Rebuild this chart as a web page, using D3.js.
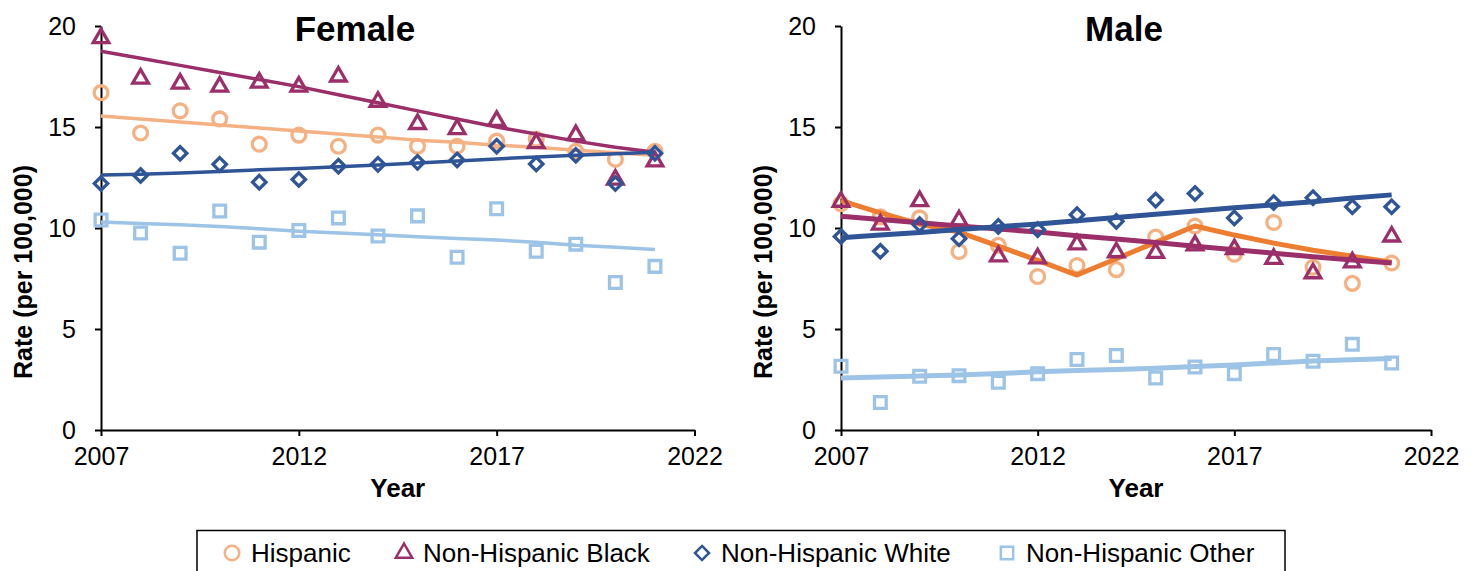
<!DOCTYPE html>
<html>
<head>
<meta charset="utf-8">
<script src="https://cdn.jsdelivr.net/npm/d3@7"></script>
<style>
  body { margin: 0; background: #fff; }
  svg text { font-family: "Liberation Sans", Arial, sans-serif; fill: #000; }
</style>
</head>
<body>
<div id="chart"></div>
<script>
// data
var years = [2007, 2008, 2009, 2010, 2011, 2012, 2013, 2014, 2015, 2016, 2017, 2018, 2019, 2020, 2021];
var yTicks = [0, 5, 10, 15, 20];
var xTicks = [2007, 2012, 2017, 2022];
var groups = ["Hispanic", "Non-Hispanic Black", "Non-Hispanic White", "Non-Hispanic Other"];

// female observed rates
var femHisp  = [16.7, 14.7, 15.8, 15.4, 14.15, 14.6, 14.05, 14.6, 14.05, 14.05, 14.3, 14.4, 13.8, 13.4, 13.8];
var femBlack = [19.4, 17.4, 17.15, 17.0, 17.2, 17.0, 17.5, 16.25, 15.15, 14.9, 15.3, 14.2, 14.6, 12.4, 13.3];
var femWhite = [12.2, 12.6, 13.7, 13.15, 12.27, 12.4, 13.06, 13.15, 13.25, 13.37, 14.05, 13.17, 13.6, 12.2, 13.7];
var femOther = [10.4, 9.75, 8.75, 10.84, 9.3, 9.88, 10.5, 9.6, 10.6, 8.55, 10.95, 8.85, 9.2, 7.3, 8.1];
// female fitted trends
var femHispFit  = [15.55, 15.4, 15.25, 15.1, 14.95, 14.8, 14.65, 14.5, 14.35, 14.25, 14.1, 14.0, 13.85, 13.72, 13.6];
var femBlackFit = [18.75, 18.4, 18.05, 17.7, 17.35, 17.0, 16.6, 16.2, 15.8, 15.4, 15.0, 14.65, 14.3, 14.0, 13.75];
var femWhiteFit = [12.62, 12.66, 12.72, 12.8, 12.88, 12.95, 13.03, 13.12, 13.22, 13.32, 13.42, 13.52, 13.6, 13.68, 13.75];
var femOtherFit = [10.3, 10.22, 10.16, 10.08, 9.96, 9.84, 9.75, 9.66, 9.57, 9.48, 9.4, 9.3, 9.15, 9.05, 8.93];

// male observed rates
var maleHisp  = [11.2, 10.55, 10.5, 8.84, 9.14, 7.6, 8.14, 7.94, 9.55, 10.1, 8.7, 10.27, 8.06, 7.26, 8.27];
var maleBlack = [11.3, 10.17, 11.33, 10.38, 8.6, 8.5, 9.19, 8.8, 8.77, 9.14, 8.95, 8.47, 7.76, 8.3, 9.58];
var maleWhite = [9.58, 8.85, 10.17, 9.47, 10.08, 9.92, 10.66, 10.33, 11.38, 11.71, 10.5, 11.26, 11.5, 11.05, 11.05];
var maleOther = [3.16, 1.36, 2.66, 2.69, 2.36, 2.79, 3.49, 3.69, 2.57, 3.12, 2.79, 3.74, 3.4, 4.24, 3.32];
// male fitted trends
var maleHispFit  = [11.35, 10.75, 10.2, 9.8, 9.1, 8.4, 7.67, 8.48, 9.29, 10.1, 9.65, 9.25, 8.9, 8.6, 8.3];
var maleBlackFit = [10.58, 10.42, 10.26, 10.1, 9.95, 9.8, 9.62, 9.45, 9.28, 9.1, 8.92, 8.75, 8.58, 8.42, 8.27];
var maleWhiteFit = [9.52, 9.65, 9.78, 9.92, 10.06, 10.2, 10.36, 10.52, 10.68, 10.84, 11.0, 11.15, 11.3, 11.48, 11.64];
var maleOtherFit = [2.57, 2.62, 2.67, 2.72, 2.8, 2.88, 2.95, 3.0, 3.06, 3.14, 3.22, 3.32, 3.42, 3.48, 3.54];

var colors = ["#F4B183", "#9B2F6A", "#2F5597", "#9DC3E6"];
var maleHispLine = "#ED7D31";
var symbols = [d3.symbolCircle, d3.symbolTriangle2, d3.symbolDiamond2, d3.symbolSquare2];
var symSizes = [150, 175, 115, 175];

var svgWidth = 1479;
var svgHeight = 571;

var svg = d3.select("#chart")
  .append("svg")
  .attr("width", svgWidth)
  .attr("height", svgHeight);

var yScale = d3.scaleLinear().domain([0, 20]).range([430, 26]);

function drawPanel(opts) {
  var xScale = d3.scaleLinear().domain([2007, 2022]).range([opts.left, opts.right]);
  var g = svg.append("g");

  // axes
  var xAxis = g.append("g")
    .attr("transform", "translate(0,430)")
    .call(d3.axisBottom(xScale).tickValues(xTicks).tickFormat(d3.format("d"))
      .tickSize(6).tickSizeOuter(0).tickPadding(11));
  var yAxis = g.append("g")
    .attr("transform", `translate(${opts.left},0)`)
    .call(d3.axisLeft(yScale).tickValues(yTicks).tickSize(6).tickSizeOuter(0).tickPadding(19));
  g.selectAll(".domain, .tick line").attr("stroke", "#000").attr("stroke-width", 2);
  g.selectAll(".tick text").attr("font-size", "25px");

  // labels
  g.append("text")
    .attr("x", (opts.left + opts.right) / 2)
    .attr("y", 497)
    .attr("text-anchor", "middle")
    .attr("font-size", "26px")
    .attr("font-weight", "bold")
    .text("Year");
  g.append("text")
    .attr("transform", `translate(${opts.labelX},272) rotate(-90)`)
    .attr("text-anchor", "middle")
    .attr("font-size", "25px")
    .attr("font-weight", "bold")
    .text("Rate (per 100,000)");
  g.append("text")
    .attr("x", opts.titleX)
    .attr("y", 41)
    .attr("text-anchor", "middle")
    .attr("font-size", "35px")
    .attr("font-weight", "bold")
    .text(opts.title);

  var line = d3.line()
    .x((d, i) => xScale(years[i]))
    .y(d => yScale(d));

  opts.points.forEach(function(series, k) {
    g.append("g").selectAll("path")
      .data(series)
      .enter()
      .append("path")
      .attr("transform", (d, i) => `translate(${xScale(years[i])},${yScale(d)})`)
      .attr("d", d3.symbol().type(symbols[k]).size(symSizes[k]))
      .attr("fill", "none")
      .attr("stroke", colors[k])
      .attr("stroke-width", 3.3);
    g.append("path")
      .datum(opts.fits[k])
      .attr("d", line)
      .attr("fill", "none")
      .attr("stroke", opts.lineColors[k])
      .attr("stroke-width", opts.lineWidth)
      .attr("stroke-linejoin", "round");
  });
}

drawPanel({
  left: 101, right: 694.5, title: "Female", titleX: 355, labelX: 32,
  points: [femHisp, femBlack, femWhite, femOther],
  fits: [femHispFit, femBlackFit, femWhiteFit, femOtherFit],
  lineColors: colors, lineWidth: 3.5
});
drawPanel({
  left: 841, right: 1431, title: "Male", titleX: 1124, labelX: 772,
  points: [maleHisp, maleBlack, maleWhite, maleOther],
  fits: [maleHispFit, maleBlackFit, maleWhiteFit, maleOtherFit],
  lineColors: [maleHispLine, colors[1], colors[2], colors[3]], lineWidth: 5
});

// legend
var legendX = [232, 404, 702, 1007];
var legend = svg.append("g");
legend.append("rect")
  .attr("x", 197)
  .attr("y", 530.5)
  .attr("width", 1088)
  .attr("height", 60)
  .attr("fill", "#fff")
  .attr("stroke", "#000")
  .attr("stroke-width", 1.5);
groups.forEach(function(name, k) {
  legend.append("path")
    .attr("transform", `translate(${legendX[k]},553)`)
    .attr("d", d3.symbol().type(symbols[k]).size(symSizes[k] * 1.1))
    .attr("fill", "none")
    .attr("stroke", colors[k])
    .attr("stroke-width", 2.5);
  legend.append("text")
    .attr("x", legendX[k] + 19)
    .attr("y", 562)
    .attr("font-size", "26px")
    .text(name);
});
</script>
</body>
</html>
